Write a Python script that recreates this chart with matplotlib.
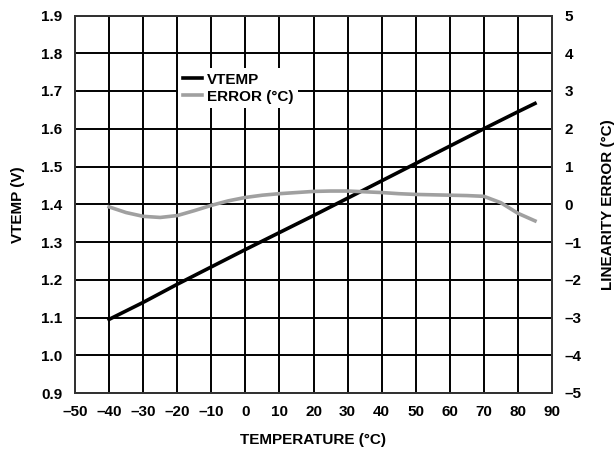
import matplotlib
matplotlib.use("Agg")
import matplotlib.pyplot as plt

plt.rcParams['font.family'] = ['Liberation Sans', 'DejaVu Sans']
plt.rcParams['font.weight'] = 'bold'

temp_v = [-40, -30, -20, -10, 0, 10, 20, 30, 40, 50, 60, 70, 80, 85]
vtemp = [1.095, 1.140, 1.188, 1.234, 1.280, 1.325, 1.370, 1.416, 1.462, 1.508, 1.554, 1.600, 1.645, 1.667]

temp_e = [-40, -35, -30, -25, -20, -15, -10, -5, 0, 5, 10, 15, 20, 25, 30, 35, 40, 45, 50, 55, 60, 65, 70, 75, 80, 85]
error = [-0.07, -0.22, -0.32, -0.35, -0.30, -0.17, -0.03, 0.09, 0.18, 0.24, 0.28, 0.31, 0.34, 0.35, 0.35, 0.33, 0.31, 0.28, 0.26, 0.25, 0.24, 0.23, 0.21, 0.04, -0.24, -0.44]

x_ticks = list(range(-50, 91, 10))
x_labels = [str(t).replace('-', '\u2013') for t in x_ticks]
yl_ticks = [0.9 + 0.1 * i for i in range(11)]
yl_labels = ['%.1f' % v for v in yl_ticks]
yr_ticks = list(range(-5, 6))
yr_labels = [str(t).replace('-', '\u2013') for t in yr_ticks]

FS = 11

fig = plt.figure(figsize=(6.16, 4.5), dpi=100)
ax = fig.add_axes([75/616, 57/450, 477/616, 377.5/450])
ax2 = ax.twinx()

ax.set_xlim(-50, 90)
ax.set_ylim(0.9, 1.9)
ax2.set_ylim(-5, 5)

ax.set_xticks(x_ticks)
ax.set_xticklabels(x_labels, fontsize=FS, fontweight='bold')
ax.set_yticks(yl_ticks)
ax.set_yticklabels(yl_labels, fontsize=FS, fontweight='bold')
ax2.set_yticks(yr_ticks)
ax2.set_yticklabels(yr_labels, fontsize=FS, fontweight='bold')

ax.grid(True, color='black', linewidth=1.4)
ax.set_axisbelow(True)
for a in (ax, ax2):
    a.tick_params(length=0, pad=9)
    for s in a.spines.values():
        s.set_color('#333333')
        s.set_linewidth(1.4)

l1, = ax.plot(temp_v, vtemp, color='black', linewidth=2.6, label='VTEMP', zorder=3)
l2, = ax2.plot(temp_e, error, color='#a0a0a0', linewidth=2.6, label='ERROR (\u00b0C)', zorder=3)

ax.set_xlabel('TEMPERATURE (\u00b0C)', fontsize=FS, fontweight='bold', labelpad=10)
ax.set_ylabel('VTEMP (V)', fontsize=FS, fontweight='bold', labelpad=12)
ax2.set_ylabel('LINEARITY ERROR (\u00b0C)', fontsize=FS, fontweight='bold', labelpad=14)

leg = ax2.legend([l1, l2], ['VTEMP', 'ERROR (\u00b0C)'], loc='upper left',
                 bbox_to_anchor=(0.216, 0.861), borderaxespad=0, frameon=True,
                 fancybox=False, framealpha=1, edgecolor='none', facecolor='white',
                 handlelength=1.3, handletextpad=0.3, labelspacing=0.2,
                 borderpad=0.3, prop={'weight': 'bold', 'size': FS})

fig.savefig('out.png', dpi=100)
